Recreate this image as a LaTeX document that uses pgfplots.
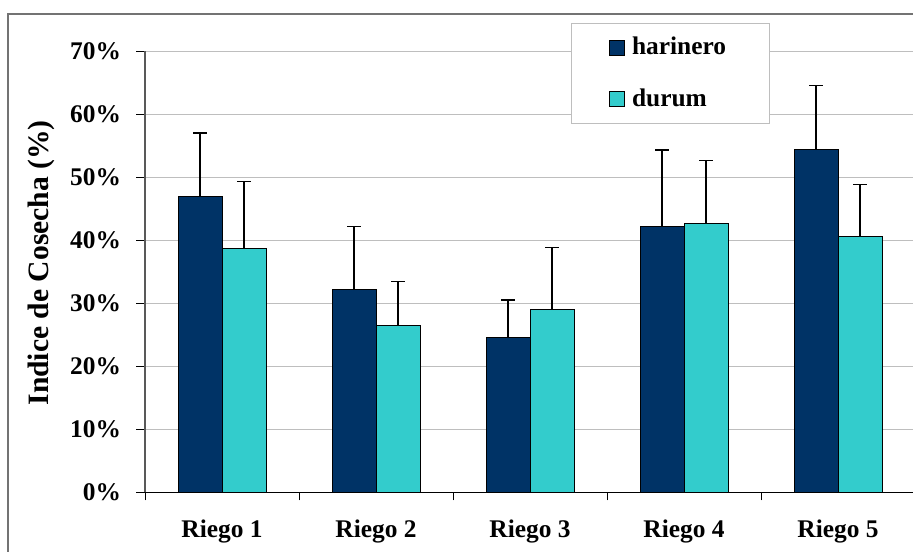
\documentclass[border=0pt]{standalone}
\usepackage{pgfplots}
\pgfplotsset{compat=1.18}
\usepackage{pgfplotstable}
\usepackage{fontspec}
\setmainfont{Liberation Serif}

\definecolor{harinero}{RGB}{0,51,102}
\definecolor{durum}{RGB}{51,204,204}
\definecolor{gridc}{RGB}{190,190,190}
\newcommand\ff{\fontsize{12.7}{15}\selectfont\bfseries}

% indice de cosecha (%) and upper error
\pgfplotstableread{
x y e
1 47.0 10.0
2 32.1 10.1
3 24.5 6.0
4 42.2 12.1
5 54.4 10.1
}\harinero
\pgfplotstableread{
x y e
1 38.6 10.7
2 26.4 7.0
3 29.0 9.8
4 42.6 10.0
5 40.5 8.3
}\durum

\pgfplotsset{
    sq legend/.style={legend image code/.code={
        \path[draw=none,fill=none] (0pt,0pt) -- (8.6pt,0pt);
        \draw[##1,line width=0.5pt] (0pt,-3.75pt) rectangle (7.5pt,3.75pt);}},
}

\begin{document}
\begin{tikzpicture}
    \useasboundingbox (0,0) rectangle (456.5pt,275.5pt);
    \clip (0,0) rectangle (456.5pt,275.5pt);
    % chart area border (cut at right and bottom)
    \draw[gray!90!black,line width=0.6pt] (4pt,-5pt) -- (4pt,268.5pt) -- (470pt,268.5pt);
    \begin{axis}[
        at={(72.5pt,29.35pt)}, anchor=south west,
        scale only axis,
        width=385pt, height=220.65pt,
        ybar=0pt, bar width=22pt,
        xmin=0.5, xmax=5.5,
        ymin=0, ymax=70,
        axis x line*=bottom, axis y line*=left,
        axis line style={line width=0.6pt},
        y axis line style={gray!70!black},
        xtick={1,...,5},
        xticklabels={Riego 1,Riego 2,Riego 3,Riego 4,Riego 5},
        minor xtick={0.5,1.5,...,5.5},
        ytick={0,10,...,70},
        yticklabel={\pgfmathprintnumber{\tick}\%},
        /pgf/number format/assume math mode=true,
        tick align=outside,
        major x tick style={draw=none},
        minor tick length=4pt,
        major tick length=4.5pt,
        tick style={black,line width=0.5pt},
        ymajorgrids,
        grid style={gridc,line width=0.5pt},
        tick label style={font=\ff},
        xticklabel style={yshift=-6pt},
        yticklabel style={xshift=-4pt},
        ylabel={Indice de Cosecha (\%)},
        ylabel style={font=\bfseries\fontsize{14.8}{17}\selectfont, at={(axis description cs:-0.134,0.52)}, anchor=center, rotate=0},
        legend style={at={(0.553,1.064)}, anchor=north west, draw=gridc,
            line width=0.5pt, font=\ff, row sep=11.5pt,
            inner xsep=19pt, inner ysep=5pt,
            nodes={inner xsep=2.5pt}},
        legend cell align=left,
        error bars/y dir=plus, error bars/y explicit,
        error bars/error mark=-,
        error bars/error bar style={black,line width=0.6pt},
        error bars/error mark options={black,line width=0.6pt,mark size=3.5pt,rotate=90},
    ]
    \addplot[fill=harinero, draw=black, line width=0.5pt, sq legend]
        table[x=x, y=y, y error=e] {\harinero};
    \addlegendentry{harinero}
    \addplot[fill=durum, draw=black, line width=0.5pt, sq legend]
        table[x=x, y=y, y error=e] {\durum};
    \addlegendentry{durum}
    \end{axis}
\end{tikzpicture}
\end{document}
